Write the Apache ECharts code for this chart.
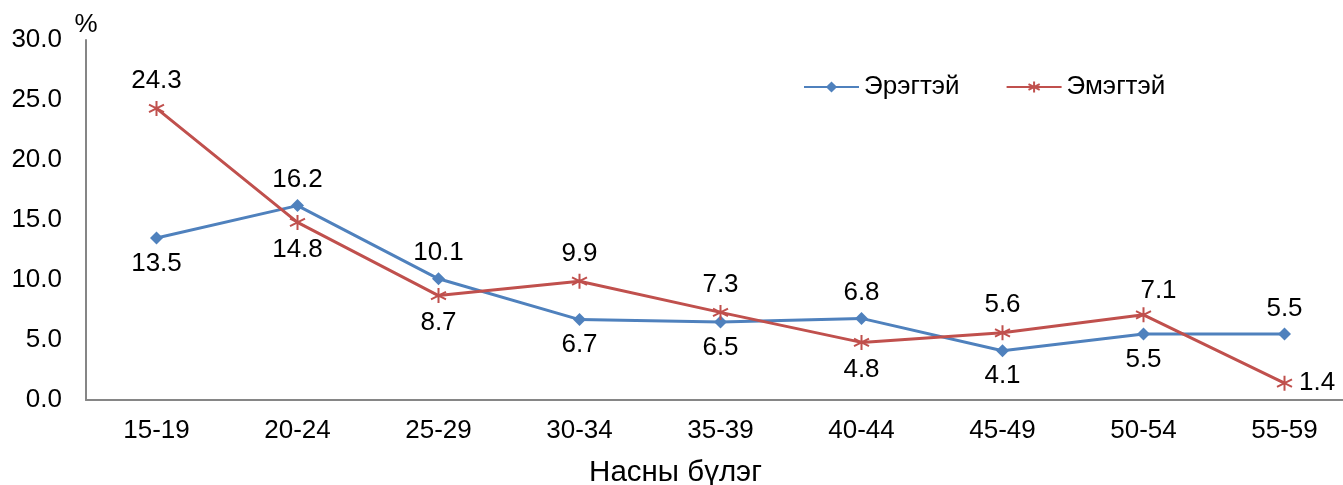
<!DOCTYPE html>
<html><head><meta charset="utf-8">
<script src="https://cdn.jsdelivr.net/npm/echarts@6/dist/echarts.min.js"></script>
<style>html,body{margin:0;padding:0;background:#fff}#c{width:1343px;height:485px}</style>
</head><body><div id="c"></div>
<script>
const categories = ['15-19','20-24','25-29','30-34','35-39','40-44','45-49','50-54','55-59'];
const male = [13.5,16.2,10.1,6.7,6.5,6.8,4.1,5.5,5.5];
const female = [24.3,14.8,8.7,9.9,7.3,4.8,5.6,7.1,1.4];
const yTicks = {min:0, max:30, interval:5};

const malePos = ['bottom','top','top','bottom','bottom','top','bottom','bottom','top'];
const femalePos = ['top','bottom','bottom','top','top','bottom','top','top','right'];
const FONT = 'Liberation Sans, Arial, sans-serif';
const FS = 26;
const star = 'path://M0,-6L0,6M-5.2,-3L5.2,3M-5.2,3L5.2,-3';

const femaleExtra = {7:{position:'top', offset:[15,4]}, 8:{position:'right', distance:6}};

const chart = echarts.init(document.getElementById('c'));
chart.setOption({
  animation:false,
  textStyle:{fontFamily:FONT},
  grid:{left:86, top:40, height:360, width:1269, containLabel:false, outerBoundsMode:'none'},
  legend:{
    left:798, top:69, itemWidth:55, itemHeight:14, itemGap:46,
    textStyle:{fontSize:FS, color:'#000', fontFamily:FONT},
    data:[{name:'Эрэгтэй'},{name:'Эмэгтэй'}]
  },
  xAxis:{
    type:'category', data:categories, boundaryGap:true,
    name:'Насны бүлэг', nameLocation:'middle', nameGap:58,
    nameTextStyle:{fontSize:29.5, color:'#000', fontFamily:FONT, padding:[0,90,0,0]},
    axisLine:{lineStyle:{color:'#868686', width:2}},
    axisTick:{show:false},
    axisLabel:{fontSize:FS, color:'#000', margin:18, fontFamily:FONT}
  },
  yAxis:{
    type:'value', min:yTicks.min, max:yTicks.max, interval:yTicks.interval,
    name:'%', nameLocation:'end', nameGap:2,
    nameTextStyle:{fontSize:FS, color:'#000', align:'center', fontFamily:FONT},
    axisLine:{show:true, lineStyle:{color:'#868686', width:2}},
    axisTick:{show:false},
    splitLine:{show:false},
    axisLabel:{fontSize:FS, color:'#000', margin:24, fontFamily:FONT, formatter:v=>v.toFixed(1)}
  },
  series:[
    {name:'Эрэгтэй', type:'line',
     data:male.map((v,i)=>({value:v, label:{position:malePos[i], distance:6}})),
     symbol:'diamond', symbolSize:13, lineStyle:{color:'#4F81BD', width:3},
     itemStyle:{color:'#4F81BD'},
     label:{show:true, fontSize:FS, color:'#000', fontFamily:FONT, formatter:p=>p.value.toFixed(1)}},
    {name:'Эмэгтэй', type:'line',
     data:female.map((v,i)=>({value:v, label:Object.assign({position:femalePos[i], distance:6}, femaleExtra[i]||{})})),
     symbol:star, symbolSize:15, lineStyle:{color:'#C0504D', width:3},
     itemStyle:{color:'#C0504D', borderColor:'#C0504D', borderWidth:2},
     label:{show:true, fontSize:FS, color:'#000', fontFamily:FONT, formatter:p=>p.value.toFixed(1)}}
  ]
});
</script></body></html>
